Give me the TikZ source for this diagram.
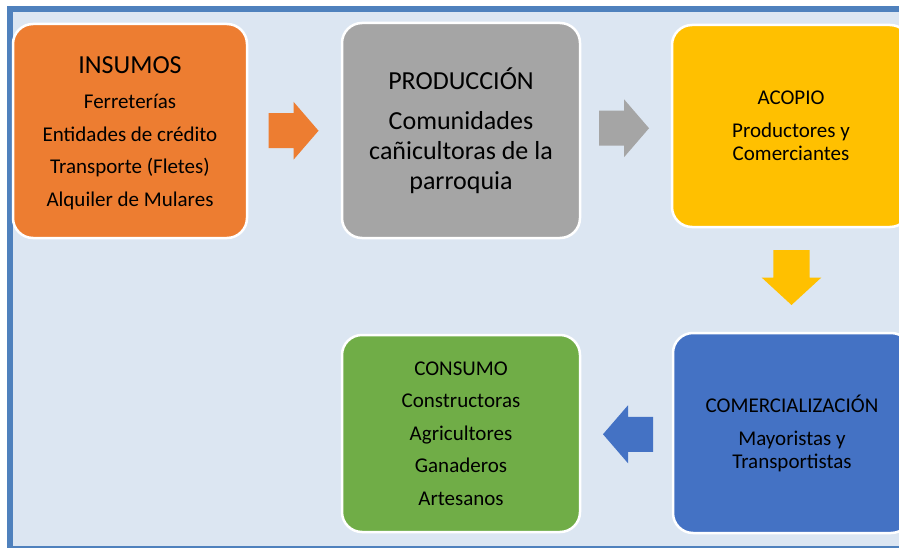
\documentclass[tikz,border=0pt]{standalone}
\usepackage{fontspec}
\setmainfont{Carlito}
\usetikzlibrary{calc}
\definecolor{bgblue}{HTML}{DCE6F2}
\definecolor{frameblue}{HTML}{4F81BD}
\definecolor{corange}{HTML}{ED7D31}
\definecolor{cgrey}{HTML}{A5A5A5}
\definecolor{cyellow}{HTML}{FFC000}
\definecolor{cblue}{HTML}{4472C4}
\definecolor{cgreen}{HTML}{70AD47}
\tikzset{
  stage/.style={rectangle, rounded corners=20pt, draw=white, line width=2.5pt,
    inner sep=0pt, align=center, text=black},
  blockarrow/.pic={\fill (-25,-17.5) -- (0,-17.5) -- (0,-29) -- (25,0) -- (0,29) -- (0,17.5) -- (-25,17.5) -- cycle;}
}
\begin{document}
\begin{tikzpicture}[x=1pt,y=-1pt]
\useasboundingbox (0,0) rectangle (899,548);
\clip (0,0) rectangle (899,548);
\fill[white] (0,0) rectangle (899,548);
\draw[line width=6pt, draw=frameblue, fill=bgblue] (10,9) rectangle (905,549);

\node[stage, fill=corange, minimum width=234pt, minimum height=214pt,
  font=\fontsize{21}{32.5}\selectfont] (ins) at (130,131)
  {\rule{0pt}{21pt}{\fontsize{26}{32.5}\selectfont INSUMOS}\\[3pt]
   Ferreterías\\ Entidades de crédito\\ Transporte (Fletes)\\ Alquiler de Mulares};

\node[stage, fill=cgrey, minimum width=238pt, minimum height=215pt,
  font=\fontsize{26}{30}\selectfont] (prod) at (461,130.5)
  {PRODUCCIÓN\\[10pt] Comunidades\\ cañicultoras de la\\ parroquia};

\node[stage, fill=cyellow, minimum width=238pt, minimum height=202pt,
  font=\fontsize{21}{23}\selectfont] (acop) at (791,126)
  {ACOPIO\\[10pt] Productores y\\ Comerciantes};

\node[stage, fill=cblue, minimum width=238pt, minimum height=200pt,
  font=\fontsize{21}{22.5}\selectfont] (comer) at (792,433)
  {COMERCIALIZACIÓN\\[11pt] Mayoristas y\\ Transportistas};

\node[stage, fill=cgreen, minimum width=238pt, minimum height=197pt,
  font=\fontsize{21}{32.5}\selectfont] (cons) at (461,433.5)
  {CONSUMO\\ Constructoras\\ Agricultores\\ Ganaderos\\ Artesanos};

\pic[color=corange] at ($(ins.east)!0.5!(prod.west)+(-1,0)$) {blockarrow};
\pic[color=cgrey] at ($(prod.east)!0.5!(acop.west)+(-2,0)$) {blockarrow};
\pic[color=cyellow, rotate=-90, xscale=1.1, yscale=1.03] at ($(acop.south)!0.5!(comer.north)+(0,-2.5)$) {blockarrow};
\pic[color=cblue, rotate=180] at ($(comer.west)!0.5!(cons.east)+(1.5,1)$) {blockarrow};
\end{tikzpicture}
\end{document}
